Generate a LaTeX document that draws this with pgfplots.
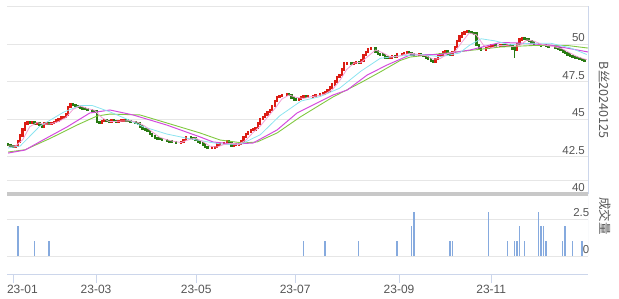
\documentclass[border=0pt]{standalone}
\usepackage{fontspec}
\setmainfont{Liberation Sans}
\newfontfamily\cjk{Noto Sans CJK SC}
\usepackage{pgfplots}
\usepackage{pgfplotstable}
\pgfplotsset{compat=1.18}

\definecolor{cred}{RGB}{220,28,20}
\definecolor{cgreen}{RGB}{40,122,18}
\definecolor{cpink}{RGB}{243,160,214}
\definecolor{ccyan}{RGB}{140,228,240}
\definecolor{cmag}{RGB}{212,76,222}
\definecolor{clime}{RGB}{128,200,64}
\definecolor{cgrid}{RGB}{230,230,230}
\definecolor{cbar}{RGB}{200,200,200}
\definecolor{cborder}{RGB}{204,214,235}
\definecolor{cvol}{RGB}{134,170,222}
\definecolor{ctext}{RGB}{85,85,85}

\pgfplotstableread{
i o c
0 43.3 43.25
1 43.25 43.2
2 43.2 43.15
3 43.15 43.2
4 43.2 43.5
5 43.5 43.9
6 43.9 44.3
7 44.3 44.7
8 44.7 44.8
9 44.8 44.75
10 44.75 44.8
11 44.8 44.7
12 44.7 44.75
13 44.75 44.6
14 44.6 44.5
15 44.5 44.7
16 44.7 44.75
17 44.75 44.7
18 44.7 44.75
19 44.75 44.8
20 44.8 44.9
21 44.9 45.0
22 45.0 45.1
23 45.1 45.15
24 45.15 45.3
25 45.3 45.8
26 45.8 46.0
27 46.0 45.95
28 45.95 45.85
29 45.85 45.8
30 45.8 45.75
31 45.75 45.7
32 45.7 45.65
33 45.65 45.6
34 45.6 45.6
35 45.6 45.55
36 45.55 45.5
37 45.5 44.8
38 44.8 44.75
39 44.75 44.85
40 44.85 44.9
41 44.9 44.85
42 44.85 44.8
43 44.8 44.9
44 44.9 44.85
45 44.85 44.8
46 44.8 44.85
47 44.85 44.9
48 44.9 44.95
49 44.95 44.9
50 44.9 44.85
51 44.85 44.8
52 44.8 44.8
53 44.8 44.75
54 44.75 44.7
55 44.7 44.5
56 44.5 44.35
57 44.35 44.3
58 44.3 44.2
59 44.2 44.0
60 44.0 43.85
61 43.85 43.75
62 43.75 43.7
63 43.7 43.65
64 43.65 43.6
65 43.6 43.6
66 43.6 43.55
67 43.55 43.5
68 43.5 43.45
69 43.45 43.45
70 43.45 43.4
71 43.4 43.4
72 43.4 43.45
73 43.45 43.6
74 43.6 43.8
75 43.8 43.8
76 43.8 43.75
77 43.75 43.7
78 43.7 43.6
79 43.6 43.5
80 43.5 43.4
81 43.4 43.3
82 43.3 43.15
83 43.15 43.05
84 43.05 43.05
85 43.05 43.1
86 43.1 43.15
87 43.15 43.3
88 43.3 43.35
89 43.35 43.35
90 43.35 43.4
91 43.4 43.5
92 43.5 43.45
93 43.45 43.2
94 43.2 43.25
95 43.25 43.3
96 43.3 43.35
97 43.35 43.5
98 43.5 43.8
99 43.8 44.0
100 44.0 44.15
101 44.15 44.25
102 44.25 44.3
103 44.3 44.4
104 44.4 44.7
105 44.7 45.0
106 45.0 45.15
107 45.15 45.3
108 45.3 45.45
109 45.45 45.6
110 45.6 45.85
111 45.85 46.2
112 46.2 46.45
113 46.45 46.55
114 46.55 46.6
115 46.6 46.6
116 46.6 46.65
117 46.65 46.6
118 46.6 46.4
119 46.4 46.3
120 46.3 46.25
121 46.25 46.35
122 46.35 46.45
123 46.45 46.5
124 46.5 46.45
125 46.45 46.5
126 46.5 46.5
127 46.5 46.55
128 46.55 46.6
129 46.6 46.6
130 46.6 46.65
131 46.65 46.7
132 46.7 46.8
133 46.8 46.9
134 46.9 47.1
135 47.1 47.3
136 47.3 47.5
137 47.5 47.8
138 47.8 47.95
139 47.95 48.3
140 48.3 48.7
141 48.7 48.75
142 48.75 48.75
143 48.75 48.7
144 48.7 48.75
145 48.75 48.8
146 48.8 48.75
147 48.75 48.9
148 48.9 49.25
149 49.25 49.45
150 49.45 49.65
151 49.65 49.7
152 49.7 49.7
153 49.7 49.5
154 49.5 49.35
155 49.35 49.3
156 49.3 49.25
157 49.25 49.1
158 49.1 49.05
159 49.05 49.1
160 49.1 49.2
161 49.2 49.15
162 49.15 49.3
163 49.3 49.3
164 49.3 49.35
165 49.35 49.4
166 49.4 49.45
167 49.45 49.4
168 49.4 49.3
169 49.3 49.25
170 49.25 49.25
171 49.25 49.3
172 49.3 49.25
173 49.25 49.2
174 49.2 49.1
175 49.1 49.0
176 49.0 48.85
177 48.85 48.8
178 48.8 49.0
179 49.0 49.2
180 49.2 49.3
181 49.3 49.45
182 49.45 49.5
183 49.5 49.35
184 49.35 49.3
185 49.3 49.45
186 49.45 49.8
187 49.8 50.2
188 50.2 50.5
189 50.5 50.7
190 50.7 50.8
191 50.8 50.85
192 50.85 50.8
193 50.8 50.75
194 50.75 50.7
195 50.7 49.95
196 49.95 49.7
197 49.7 49.6
198 49.6 49.6
199 49.6 49.75
200 49.75 49.8
201 49.8 49.9
202 49.9 49.95
203 49.95 49.9
204 49.9 49.9
205 49.9 49.95
206 49.95 49.9
207 49.9 49.85
208 49.85 49.9
209 49.9 49.85
210 49.85 49.7
211 49.7 49.6
212 49.6 50.0
213 50.0 50.3
214 50.3 50.4
215 50.4 50.35
216 50.35 50.3
217 50.3 50.2
218 50.2 50.1
219 50.1 50.0
220 50.0 50.0
221 50.0 49.95
222 49.95 49.9
223 49.9 49.9
224 49.9 49.85
225 49.85 49.8
226 49.8 49.8
227 49.8 49.8
228 49.8 49.75
229 49.75 49.7
230 49.7 49.6
231 49.6 49.5
232 49.5 49.4
233 49.4 49.3
234 49.3 49.2
235 49.2 49.15
236 49.15 49.1
237 49.1 49.05
238 49.05 49.0
239 49.0 48.95
240 48.95 48.9
241 48.9 48.9
}\candles

\pgfplotstableread{
i h l
211 49.7 49.05
}\wicks

\pgfplotstableread{
i v
0 43.2
3 43.2
6 43.61
9 44.49
12 44.76
15 44.65
18 44.68
21 44.83
24 45.09
27 45.64
30 45.87
33 45.7
36 45.58
39 45.09
42 44.83
45 44.84
48 44.87
51 44.88
54 44.78
57 44.52
60 44.14
63 43.79
66 43.62
69 43.51
72 43.43
75 43.61
78 43.73
81 43.5
84 43.19
87 43.13
90 43.31
93 43.38
96 43.31
99 43.59
102 44.1
105 44.53
108 45.12
111 45.68
114 46.33
117 46.6
120 46.44
123 46.37
126 46.48
129 46.55
132 46.67
135 46.96
138 47.53
141 48.3
144 48.73
147 48.78
150 49.2
153 49.6
156 49.42
159 49.16
162 49.16
165 49.3
168 49.38
171 49.3
174 49.22
177 48.99
180 49.03
183 49.36
186 49.48
189 50.13
192 50.73
195 50.61
198 49.91
201 49.73
204 49.89
207 49.9
210 49.84
213 49.89
216 50.27
219 50.19
222 49.99
225 49.88
228 49.8
231 49.67
234 49.4
237 49.16
240 49.0
241 48.96
}\maA

\pgfplotstableread{
i v
0 43.07
5 43.2
13 44.5
23 45.45
30 45.9
35 45.9
42 45.5
50 44.95
56 44.5
66 44.0
75 43.7
84 43.45
90 43.3
97 43.33
105 43.95
113 45.2
122 46.2
130 46.5
138 47.05
147 48.2
155 49.05
163 49.2
172 49.3
180 49.15
188 49.4
192 49.9
197 50.35
203 50.2
209 49.95
217 50.05
226 50.05
234 49.75
241 49.3
}\maB

\pgfplotstableread{
i v
0 42.73
7 42.93
14.5 43.6
24.5 44.47
34 45.4
42.4 45.6
52 45.27
66 44.6
80 43.8
85.3 43.47
93.7 43.33
102 43.4
112 44.27
120.3 45.4
135.3 46.6
141.2 46.93
149.5 47.93
157.8 48.6
167.4 49.27
180 49.3
192.4 49.6
205 50.1
212 50.07
225.75 49.93
241.5 49.47
}\maC

\pgfplotstableread{
i v
0 42.8
7 42.95
17.4 43.7
28.7 44.6
37 45.2
42.4 45.33
54.9 45.27
66.2 44.73
79.9 44.07
88.25 43.6
97.8 43.4
103.7 43.47
112 44.07
121.6 45.13
135.3 46.47
146.6 47.4
154.9 48.13
163.25 48.9
167.4 49.13
177 49.3
191.2 49.55
205 49.8
218.7 49.9
232.9 49.9
241.5 49.73
}\maD

\pgfplotstableread{
i v
4 2
11 1
17 1
123 1
132 1
146 1
162 1
168 2
169 3
184 1
185 1
200 3
208 1
211 1
212 1
213 2
215 1
221 3
222 2
223 2
224 1
231 1
232 2
235 1
239 1
}\vol

\begin{document}
\begin{tikzpicture}
\path[use as bounding box] (0,0) rectangle (619bp,-299bp);

\begin{axis}[
  at={(7bp,-6.5bp)}, anchor=north west,
  width=581bp, height=187.5bp, scale only axis,
  xmin=-0.5, xmax=241.5, ymin=40, ymax=52.5,
  clip=false,
  axis x line=none,
  axis y line=right,
  y axis line style={draw=cborder, line width=1bp, -},
  ytick={40,42.5,45,47.5,50,52.5},
  yticklabels={40,42.5,45,47.5,50,},
  major tick length=0pt,
  ytick style={draw=none},
  ymajorgrids, grid style={draw=cgrid, line width=1bp},
  minor ytick={40.93}, yminorgrids, minor grid style={draw=cgrid, line width=1bp},
  extra y ticks={40}, extra y tick labels={},
  extra y tick style={grid style={draw=cbar, line width=3.5bp}},
  yticklabel style={anchor=south east, inner sep=2bp, xshift=-1bp,
    font=\fontsize{11.5bp}{13bp}\selectfont, text=ctext},
]
\addplot[draw=none, mark=none, forget plot,
  error bars/.cd, y dir=minus, y explicit, error mark=none,
  error bar style={draw=cred, line width=2.3bp, line cap=rect}]
  table[x=i, y expr={\thisrow{c}>=\thisrow{o} ? \thisrow{c} : nan},
        y error minus expr={\thisrow{c}-\thisrow{o}}] {\candles};
\addplot[draw=none, mark=none, forget plot,
  error bars/.cd, y dir=minus, y explicit, error mark=none,
  error bar style={draw=cgreen, line width=2.3bp, line cap=rect}]
  table[x=i, y expr={\thisrow{c}<\thisrow{o} ? \thisrow{o} : nan},
        y error minus expr={\thisrow{o}-\thisrow{c}}] {\candles};
\addplot[draw=none, mark=none, forget plot,
  error bars/.cd, y dir=minus, y explicit, error mark=none,
  error bar style={draw=cgreen, line width=0.8bp}]
  table[x=i, y=h, y error minus expr={\thisrow{h}-\thisrow{l}}] {\wicks};
\addplot[clime, line width=0.9bp, mark=none] table[x=i, y=v] {\maD};
\addplot[cmag, line width=1bp, mark=none] table[x=i, y=v] {\maC};
\addplot[ccyan, line width=0.8bp, mark=none] table[x=i, y=v] {\maB};
\addplot[cpink, line width=0.8bp, mark=none] table[x=i, y=v] {\maA};
\end{axis}

\begin{axis}[
  at={(7bp,-194bp)}, anchor=north west,
  width=581bp, height=80bp, scale only axis,
  xmin=-0.5, xmax=241.5, ymin=-1.216, ymax=4.19,
  axis x line=bottom,
  axis y line=right,
  x axis line style={draw=cborder, line width=1bp, -},
  y axis line style={draw=none, -},
  ytick={0,2.5}, yticklabels={0,2.5},
  ytick style={draw=none},
  ymajorgrids, grid style={draw=cgrid, line width=1bp},
  yticklabel style={anchor=south east, inner sep=2bp, xshift=-1bp,
    font=\fontsize{11.5bp}{13bp}\selectfont, text=ctext},
  xtick={2,36.6,78.3,119.5,162.8,201.2},
  xticklabels={\makebox[0pt][l]{\hspace*{-6bp}23-01},23-03,23-05,23-07,23-09,23-11},
  xtick align=outside,
  major tick length=9bp,
  xtick style={draw=cborder, line width=1bp},
  xticklabel style={font=\fontsize{12bp}{14bp}\selectfont, text=ctext, inner sep=2bp},
]
\addplot[ycomb, cvol, line width=1.4bp, mark=none] table[x=i, y=v] {\vol};
\draw[cborder, line width=1bp] (axis cs:241.5,0) -- (axis cs:241.5,4.19);
\end{axis}

\node[rotate=-90, text=ctext, inner sep=0pt] at (605bp,-100bp)
  {\cjk\fontsize{12.5bp}{14bp}\selectfont B丝20240125};
\node[rotate=-90, text=ctext, inner sep=0pt] at (605bp,-216bp)
  {\cjk\fontsize{12.5bp}{14bp}\selectfont 成交量};
\end{tikzpicture}
\end{document}
